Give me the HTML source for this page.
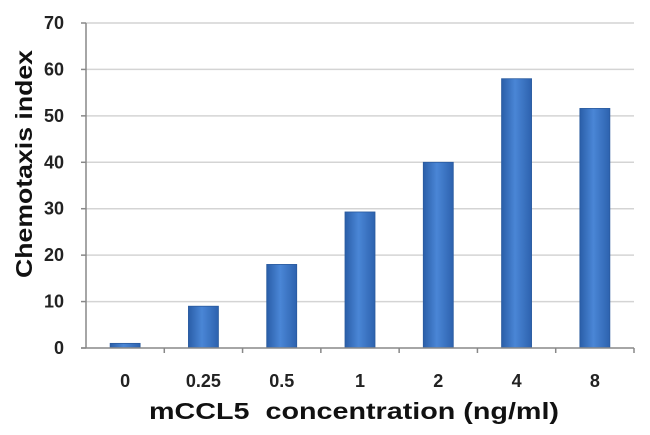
<!DOCTYPE html>
<html><head><meta charset="utf-8"><style>
body{margin:0;background:#fff;}
svg{display:block;font-family:"Liberation Sans",sans-serif;font-weight:bold;}
</style></head><body>
<svg width="650" height="435">
<defs>
<linearGradient id="bg" x1="0" x2="1" y1="0" y2="0">
<stop offset="0" stop-color="#2a5ea8"/><stop offset="0.45" stop-color="#4a86d6"/><stop offset="1" stop-color="#2d62ae"/>
</linearGradient>
</defs>
<g id="grid"></g><g id="bars"></g><g id="axes"></g>
<text x="354" y="419" font-size="23" text-anchor="middle" textLength="410" lengthAdjust="spacingAndGlyphs" fill="#111">mCCL5&#160; concentration (ng/ml)</text>
<text transform="translate(32,164) rotate(-90)" font-size="23" text-anchor="middle" textLength="228" lengthAdjust="spacingAndGlyphs" fill="#111">Chemotaxis index</text>
</svg>
<script>
const categories=["0","0.25","0.5","1","2","4","8"];
const values=[1,9,18,29.3,40,58,51.6];
const yTicks=[0,10,20,30,40,50,60,70];
const ns="http://www.w3.org/2000/svg";
const x0=86,x1=634,y0=348,yTop=23,yMax=70;
const bw=(x1-x0)/categories.length;
function y(v){return y0-(v/yMax)*(y0-yTop);}
function xc(i){return x0+bw*(i+0.5);}
function mk(t,a,p){const e=document.createElementNS(ns,t);for(const k in a)e.setAttribute(k,a[k]);p.appendChild(e);return e;}
const G=document.getElementById('grid'),B=document.getElementById('bars'),A=document.getElementById('axes');
yTicks.forEach(v=>{
 if(v>0){const l=mk('line',{x1:x0,x2:x1,y1:y(v),y2:y(v),stroke:'#d4d4d4','stroke-width':1.5},G);
 
 }
 mk('line',{x1:x0-5,x2:x0,y1:y(v),y2:y(v),stroke:'#888','stroke-width':1.5},A);
 const t=mk('text',{x:64,y:y(v)+6,'font-size':18,'text-anchor':'end',fill:'#222'},A);t.textContent=v;
 
 
});
categories.forEach((c,i)=>{
 const r=mk('rect',{x:xc(i)-15,y:y(values[i]),width:30,height:y0-y(values[i]),fill:'url(#bg)',stroke:'#2a5a9e','stroke-width':0.8},B);
 
 
 const t=mk('text',{x:xc(i),y:387,'font-size':18,'text-anchor':'middle',fill:'#222'},A);t.textContent=c;
 
 
 mk('line',{x1:x0+bw*(i+1),x2:x0+bw*(i+1),y1:y0,y2:y0+5,stroke:'#888','stroke-width':1.5},A);
});
const ya=mk('line',{x1:x0,x2:x0,y1:yTop,y2:y0,stroke:'#888','stroke-width':1.5},A);


const xa=mk('line',{x1:x0-5,x2:x1,y1:y0,y2:y0,stroke:'#888','stroke-width':1.5},A);


</script>
</body></html>
